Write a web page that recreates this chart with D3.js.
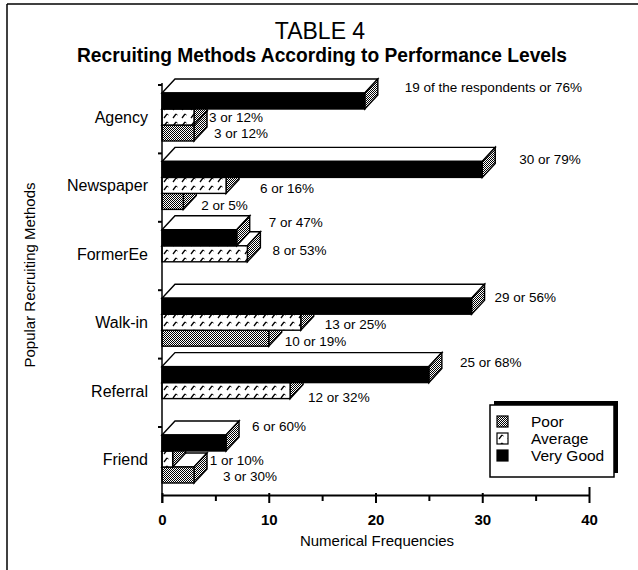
<!DOCTYPE html>
<html>
<head>
<meta charset="utf-8">
<script src="https://cdn.jsdelivr.net/npm/d3@7"></script>
<style>
  html, body { margin: 0; padding: 0; background: #fff; }
  svg { display: block; font-family: "Liberation Sans", Arial, Helvetica, sans-serif; }
</style>
</head>
<body>
<svg id="chart" width="638" height="570"></svg>
<script>
// ---------------- data ----------------
const categories = ["Agency", "Newspaper", "FormerEe", "Walk-in", "Referral", "Friend"];
const poor       = [3, 2, 0, 10, 0, 3];
const average    = [3, 6, 8, 13, 12, 1];
const veryGood   = [19, 30, 7, 29, 25, 6];
const poorPct     = [12, 5, 0, 19, 0, 30];
const averagePct  = [12, 16, 53, 25, 32, 10];
const veryGoodPct = [76, 79, 47, 56, 68, 60];
const xTickValues = [0, 5, 10, 15, 20, 25, 30, 35, 40];
const seriesNames = ["Poor", "Average", "Very Good"];

// annotation placement (layout only): horizontal gap after bar, vertical centre inside band
const gapVG  = [27, 24, 19, 10, 18, 13];
const gapAV  = [2, 21, 12, 11, 5, 24];
const gapPO  = [7, 5, 0, 3, 0, 16];
const yVG = [8, 12, 6, 13, 10, 5];
const yAV = [38, 41, 34, 40, 45, 39];
const yPO = [54, 58, 0, 57, 0, 55];

// ---------------- layout ----------------
const svg = d3.select("#chart");
const W = 638, H = 570;
const DX = 13, DY = 14, BAR = 16;
const x = d3.scaleLinear().domain([0, 40]).range([162, 589]);
const y = d3.scaleBand().domain(categories).range([79, 79 + 6 * 68.4]).padding(0);
const axisY = 495;

// patterns
const defs = svg.append("defs");
const stip = defs.append("pattern").attr("id", "stipple").attr("patternUnits", "userSpaceOnUse")
  .attr("width", 2).attr("height", 2);
stip.append("rect").attr("width", 2).attr("height", 2).attr("fill", "#fff");
stip.append("rect").attr("x", 0).attr("y", 0).attr("width", 1).attr("height", 1).attr("fill", "#000");
stip.append("rect").attr("x", 1).attr("y", 1).attr("width", 1).attr("height", 1).attr("fill", "#000");

const dash = defs.append("pattern").attr("id", "dashes").attr("patternUnits", "userSpaceOnUse")
  .attr("width", 9).attr("height", 8);
dash.append("rect").attr("width", 9).attr("height", 8).attr("fill", "#fff");
dash.append("path").attr("d", "M2,6 L5,2").attr("stroke", "#000").attr("stroke-width", 1.3).attr("fill", "none");
dash.append("path").attr("d", "M5,2 L6.5,3").attr("stroke", "#000").attr("stroke-width", 1).attr("fill", "none");

const fills = { "Poor": "url(#stipple)", "Average": "url(#dashes)", "Very Good": "#000" };

// frame
svg.append("line").attr("x1", 7).attr("y1", 4).attr("x2", 7).attr("y2", H).attr("stroke", "#000").attr("stroke-width", 1.5);
svg.append("line").attr("x1", 7).attr("y1", 4).attr("x2", W).attr("y2", 4).attr("stroke", "#000").attr("stroke-width", 1.5);

// titles
svg.append("text").attr("x", 320).attr("y", 39).attr("text-anchor", "middle")
  .attr("font-size", 23).text("TABLE 4");
svg.append("text").attr("x", 322).attr("y", 62).attr("text-anchor", "middle")
  .attr("font-size", 20).attr("font-weight", "bold")
  .attr("textLength", 490).attr("lengthAdjust", "spacingAndGlyphs")
  .text("Recruiting Methods According to Performance Levels");

// ---------------- bars ----------------
const seriesVals = { "Poor": poor, "Average": average, "Very Good": veryGood };
const slotTop = { "Very Good": DY, "Average": DY + BAR, "Poor": DY + 2 * BAR };

const rows = [];
["Poor", "Average", "Very Good"].forEach(s => {
  categories.forEach((c, i) => {
    const v = seriesVals[s][i];
    if (v > 0) rows.push({ s, c, i, v });
  });
});

const g = svg.append("g").attr("stroke", "#000").attr("stroke-width", 1.4).attr("stroke-linejoin", "miter");
rows.forEach(d => {
  const x0 = x(0), x1 = x(d.v);
  const t = y(d.c) + slotTop[d.s], b = t + BAR;
  g.append("path")
    .attr("d", `M${x0},${t} L${x0 + DX},${t - DY} L${x1 + DX},${t - DY} L${x1},${t} Z`)
    .attr("fill", "#fff");
  g.append("path")
    .attr("d", `M${x1},${t} L${x1 + DX},${t - DY} L${x1 + DX},${b - DY} L${x1},${b} Z`)
    .attr("fill", "url(#stipple)");
  g.append("rect").attr("x", x0).attr("y", t).attr("width", x1 - x0).attr("height", BAR)
    .attr("fill", fills[d.s]);
});

// ---------------- axes ----------------
svg.append("line").attr("x1", x(0)).attr("x2", x(0)).attr("y1", y(categories[0]) + 4).attr("y2", axisY + 8)
  .attr("stroke", "#000").attr("stroke-width", 1.5);
svg.append("g").selectAll("line").data(categories).join("line")
  .attr("x1", x(0) - 4).attr("x2", x(0)).attr("y1", d => y(d) + 6).attr("y2", d => y(d) + 6)
  .attr("stroke", "#000").attr("stroke-width", 2);
svg.append("g").selectAll("text").data(categories).join("text")
  .attr("x", 148).attr("y", d => y(d) + DY + 1.5 * BAR + 6)
  .attr("text-anchor", "end").attr("font-size", 16).text(d => d);

const xAxis = d3.axisBottom(x).tickValues(xTickValues).tickSizeInner(6).tickSizeOuter(0)
  .tickFormat(d => d % 10 === 0 ? d : "");
const gx = svg.append("g").attr("transform", `translate(0,${axisY})`).call(xAxis);
gx.select(".domain").attr("stroke-width", 2);
gx.selectAll(".tick line").attr("stroke-width", 2)
  .attr("y1", d => d === 40 ? -8 : (d % 10 === 0 ? -2 : 0))
  .attr("y2", d => d % 10 === 0 ? 8 : 6);
gx.selectAll(".tick text").attr("y", 19).attr("font-size", 15).attr("font-weight", "bold")
  .attr("font-family", "Liberation Sans, Arial, sans-serif").attr("fill", "#000");

svg.append("text").attr("x", 377).attr("y", 546).attr("text-anchor", "middle")
  .attr("font-size", 15).text("Numerical Frequencies");
svg.append("text").attr("transform", "translate(35,275) rotate(-90)").attr("text-anchor", "middle")
  .attr("font-size", 15).text("Popular Recruiting Methods");

// ---------------- value labels ----------------
const ann = [];
categories.forEach((c, i) => {
  if (veryGood[i] > 0) ann.push({
    text: i === 0 ? `${veryGood[i]} of the respondents or ${veryGoodPct[i]}%` : `${veryGood[i]} or ${veryGoodPct[i]}%`,
    x: x(veryGood[i]) + DX + gapVG[i], y: y(c) + yVG[i] });
  if (average[i] > 0) ann.push({ text: `${average[i]} or ${averagePct[i]}%`,
    x: x(average[i]) + DX + gapAV[i], y: y(c) + yAV[i] });
  if (poor[i] > 0) ann.push({ text: `${poor[i]} or ${poorPct[i]}%`,
    x: x(poor[i]) + DX + gapPO[i], y: y(c) + yPO[i] });
});
svg.append("g").selectAll("text").data(ann).join("text")
  .attr("x", d => d.x).attr("y", d => d.y + 4.7).attr("font-size", 13.5)
  .text(d => d.text);

// ---------------- legend ----------------
const lx = 490, ly = 405, lw = 124, lh = 72;
svg.append("rect").attr("x", lx + 4).attr("y", ly - 4).attr("width", lw).attr("height", lh).attr("fill", "#000");
svg.append("rect").attr("x", lx).attr("y", ly).attr("width", lw).attr("height", lh)
  .attr("fill", "#fff").attr("stroke", "#000").attr("stroke-width", 1.5);
const lg = svg.append("g").selectAll("g").data(seriesNames).join("g")
  .attr("transform", (d, i) => `translate(${lx + 7},${ly + 11 + i * 17})`);
lg.append("rect").attr("width", 11).attr("height", 11).attr("fill", d => fills[d])
  .attr("stroke", "#000").attr("stroke-width", 1.2);
lg.append("text").attr("x", 34).attr("y", 11).attr("font-size", 15.5).text(d => d);
</script>
</body>
</html>
